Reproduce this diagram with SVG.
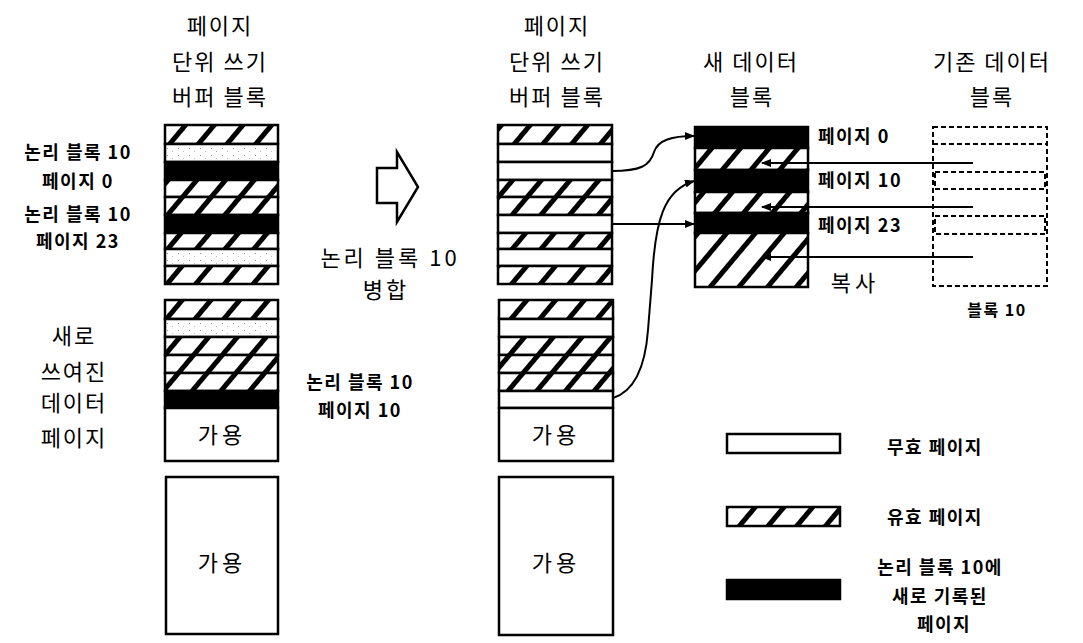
<svg xmlns="http://www.w3.org/2000/svg" width="1083" height="643" viewBox="0 0 1083 643">
<defs>
<pattern id="hatch" patternUnits="userSpaceOnUse" width="22" height="10" patternTransform="rotate(40)">
<rect width="22" height="10" fill="#fff"/>
<rect x="0" y="0" width="5" height="10" fill="#000"/>
</pattern>
<pattern id="dots" patternUnits="userSpaceOnUse" width="11" height="7">
<rect width="11" height="7" fill="#fff"/>
<rect x="2" y="1" width="1" height="1" fill="#999"/>
<rect x="7" y="4" width="1" height="1" fill="#bbb"/>
</pattern>
<marker id="ah" markerWidth="10" markerHeight="8" refX="9" refY="4" orient="auto" markerUnits="userSpaceOnUse"><path d="M0,0 L10,4 L0,8 z" fill="#000"/></marker>
</defs>
<style>
.k{font-family:"Noto Sans CJK KR","Noto Sans",sans-serif;fill:#000;text-anchor:middle}
.h{font-size:22px;letter-spacing:2px}
.b{font-size:18px;font-weight:bold;letter-spacing:1.5px}
.s{text-anchor:start}
.r{stroke:#000;stroke-width:2.5}
.w{fill:#fff}
.x{fill:url(#hatch)}
.d{fill:url(#dots)}
.f{fill:#000}
.ds{fill:none;stroke:#000;stroke-width:2;stroke-dasharray:5 3}
.c{fill:none;stroke:#000;stroke-width:2}
</style>
<rect width="1083" height="643" fill="#fff"/>

<g id="left-header" class="k h">
<text x="220" y="34">페이지</text>
<text x="220" y="70">단위 쓰기</text>
<text x="220" y="105">버퍼 블록</text>
</g>
<g id="left-labels" class="k b">
<text x="78" y="159">논리 블록 10</text>
<text x="78" y="188">페이지 0</text>
<text x="78" y="221">논리 블록 10</text>
<text x="78" y="248">페이지 23</text>
</g>
<g id="left-new-pages-label" class="k h">
<text x="74" y="344">새로</text>
<text x="74" y="380">쓰여진</text>
<text x="74" y="411">데이터</text>
<text x="74" y="446">페이지</text>
</g>

<g id="left-buffer-upper">
<rect class="r x" x="165" y="125" width="113" height="19"/>
<rect class="r d" x="165" y="144" width="113" height="18"/>
<rect class="r f" x="165" y="162" width="113" height="18"/>
<rect class="r x" x="165" y="180" width="113" height="17"/>
<rect class="r x" x="165" y="197" width="113" height="18"/>
<rect class="r f" x="165" y="215" width="113" height="18"/>
<rect class="r x" x="165" y="233" width="113" height="16"/>
<rect class="r d" x="165" y="249" width="113" height="17"/>
<rect class="r x" x="165" y="266" width="113" height="18"/>
</g>
<g id="left-buffer-lower">
<rect class="r x" x="165" y="300" width="113" height="19"/>
<rect class="r d" x="165" y="319" width="113" height="18"/>
<rect class="r x" x="165" y="337" width="113" height="18"/>
<rect class="r x" x="165" y="355" width="113" height="18"/>
<rect class="r x" x="165" y="373" width="113" height="18"/>
<rect class="r f" x="165" y="391" width="113" height="17"/>
<rect class="r w" x="165" y="408" width="113" height="53"/>
<text class="k h" x="222" y="443" style="letter-spacing:4px">가용</text>
</g>
<g id="left-free-block">
<rect class="r w" x="166" y="477" width="112" height="157"/>
<text class="k h" x="222" y="571" style="letter-spacing:4px">가용</text>
</g>

<g id="merge-arrow">
<path d="M377,168 L397,168 L397,152 L418,187 L397,222 L397,203 L377,203 Z" fill="#fff" stroke="#000" stroke-width="2.5" stroke-linejoin="miter"/>
<text class="k h" x="390" y="266" style="letter-spacing:3px">논리 블록 10</text>
<text class="k h" x="386" y="298" style="letter-spacing:3px">병합</text>
</g>

<g id="middle-header" class="k h">
<text x="557" y="34">페이지</text>
<text x="557" y="70">단위 쓰기</text>
<text x="557" y="105">버퍼 블록</text>
</g>
<g id="middle-buffer-upper">
<rect class="r x" x="498" y="125" width="114" height="19"/>
<rect class="r w" x="498" y="144" width="114" height="18"/>
<rect class="r w" x="498" y="162" width="114" height="18"/>
<rect class="r x" x="498" y="180" width="114" height="17"/>
<rect class="r x" x="498" y="197" width="114" height="18"/>
<rect class="r w" x="498" y="215" width="114" height="18"/>
<rect class="r x" x="498" y="233" width="114" height="16"/>
<rect class="r w" x="498" y="249" width="114" height="17"/>
<rect class="r x" x="498" y="266" width="114" height="18"/>
</g>
<g id="middle-buffer-lower">
<rect class="r x" x="499" y="300" width="114" height="19"/>
<rect class="r w" x="499" y="319" width="114" height="18"/>
<rect class="r x" x="499" y="337" width="114" height="18"/>
<rect class="r x" x="499" y="355" width="114" height="18"/>
<rect class="r x" x="499" y="373" width="114" height="18"/>
<rect class="r w" x="499" y="391" width="114" height="17"/>
<rect class="r w" x="499" y="408" width="114" height="53"/>
<text class="k h" x="556" y="443" style="letter-spacing:4px">가용</text>
</g>
<g id="middle-free-block">
<rect class="r w" x="499" y="477" width="114" height="158"/>
<text class="k h" x="556" y="571" style="letter-spacing:4px">가용</text>
</g>
<g id="middle-label" class="k b">
<text x="360" y="389">논리 블록 10</text>
<text x="360" y="417">페이지 10</text>
</g>

<g id="new-data-block">
<text class="k h" x="751" y="70">새 데이터</text>
<text class="k h" x="752" y="105">블록</text>
<rect class="r f" x="695" y="127" width="113" height="21"/>
<rect class="r x" x="695" y="148" width="113" height="22"/>
<rect class="r f" x="695" y="170" width="113" height="22"/>
<rect class="r x" x="695" y="192" width="113" height="21"/>
<rect class="r f" x="695" y="213" width="113" height="20"/>
<rect class="r x" x="695" y="233" width="113" height="54"/>
<text class="k b s" x="818" y="143">페이지 0</text>
<text class="k b s" x="818" y="187">페이지 10</text>
<text class="k b s" x="818" y="232">페이지 23</text>
<text class="k h" x="855" y="291" style="letter-spacing:4px">복사</text>
</g>

<g id="old-data-block">
<text class="k h" x="992" y="70">기존 데이터</text>
<text class="k h" x="992" y="105">블록</text>
<rect class="ds" x="933" y="127" width="114" height="159"/>
<line class="ds" x1="933" y1="144" x2="1047" y2="144"/>
<rect class="ds" x="935" y="172" width="110" height="17"/>
<rect class="ds" x="935" y="216" width="110" height="18"/>
<text class="k b" x="997" y="316" style="font-size:16px">블록 10</text>
</g>

<g id="connectors">
<path class="c" d="M612,171 C640,171 650,166 654,152 C658,140 672,136 694,136" marker-end="url(#ah)"/>
<path class="c" d="M612,224 L694,224" marker-end="url(#ah)"/>
<path class="c" d="M613,398 C632,392 645,370 648,330 L652,280 C655,220 664,190 694,181" marker-end="url(#ah)"/>
<path class="c" stroke-width="2.5" d="M973,163 L762,163" marker-end="url(#ah)"/>
<path class="c" stroke-width="2.5" d="M973,207 L762,207" marker-end="url(#ah)"/>
<path class="c" stroke-width="2.5" d="M973,257 L762,257" marker-end="url(#ah)"/>
</g>

<g id="legend">
<rect class="r w" x="727" y="434" width="113" height="19"/>
<text class="k b" x="935" y="454">무효 페이지</text>
<rect class="r x" x="727" y="507" width="113" height="19"/>
<text class="k b" x="935" y="524">유효 페이지</text>
<rect class="r f" x="727" y="580" width="113" height="19"/>
<text class="k b" x="940" y="574">논리 블록 10에</text>
<text class="k b" x="940" y="603">새로 기록된</text>
<text class="k b" x="944" y="631">페이지</text>
</g>
</svg>
